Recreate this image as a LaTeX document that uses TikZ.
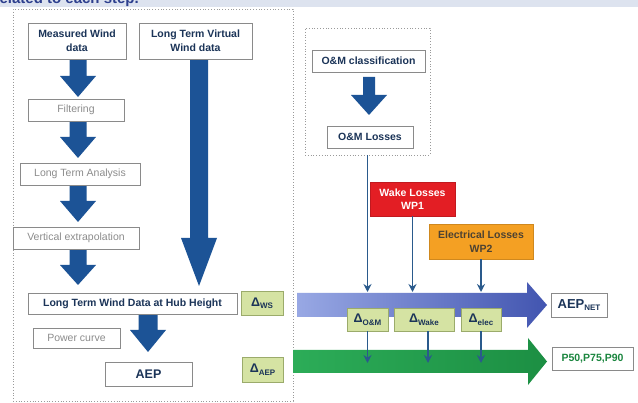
\documentclass[tikz,border=0pt]{standalone}
\usepackage{fontspec}
\setmainfont{Liberation Sans}
\usetikzlibrary{arrows.meta,calc}
\definecolor{navy}{HTML}{1B3458}
\definecolor{graytxt}{HTML}{8C8C8C}
\definecolor{boxline}{HTML}{8A8A8A}
\definecolor{frameline}{HTML}{9A9A9A}
\definecolor{fatblue}{HTML}{1C5396}
\definecolor{thinblue}{HTML}{2A5A8C}
\definecolor{deltafill}{HTML}{D5E3A3}
\definecolor{deltaline}{HTML}{9BAB6B}
\definecolor{wakered}{HTML}{E31E24}
\definecolor{elecorange}{HTML}{F4A023}
\definecolor{electxt}{HTML}{4D4232}
\definecolor{greenarrow}{HTML}{21A84F}
\definecolor{bluelight}{HTML}{98A8E4}
\definecolor{bluedark}{HTML}{4255B0}
\definecolor{bandbg}{HTML}{DDE3EF}
\definecolor{bandtxt}{HTML}{2D3F8E}
\newcommand{\fatdown}[6]{%
  \fill[fatblue] ({#1-#4},{#2}) -- ({#1-#4},{#3-#6}) -- ({#1-#5},{#3-#6}) -- ({#1},{#3})
    -- ({#1+#5},{#3-#6}) -- ({#1+#4},{#3-#6}) -- ({#1+#4},{#2}) -- cycle;}
\newcommand{\dsub}[1]{\raisebox{-2.5pt}{\fontsize{8}{9}\selectfont\bfseries #1}}
\tikzset{
  boxbase/.style={draw=boxline, line width=0.8pt, fill=white, inner sep=1pt, align=center,
    font=\fontsize{10.5}{13.5}\selectfont},
  darkbox/.style={boxbase, text=navy, font=\fontsize{10.5}{13.5}\selectfont\bfseries},
  graybox/.style={boxbase, text=graytxt},
  deltabox/.style={draw=deltaline, line width=0.8pt, fill=deltafill, inner sep=0pt, text=navy,
    font=\fontsize{12.5}{13}\selectfont\bfseries},
  dotframe/.style={draw=frameline, line width=0.8pt, dotted},
  thinarrow/.style={draw=thinblue, line width=1.8pt, -{Stealth[length=8pt,width=8pt]}},
}
\begin{document}
\begin{tikzpicture}[x=1pt,y=-1pt]
\useasboundingbox (0,0) rectangle (638,403);
\fill[white] (0,0) rectangle (638,403);
% top band with cut-off title
\begin{scope}
\clip (0,0) rectangle (638,7.5);
\fill[bandbg] (0,0) rectangle (638,7.5);
\node[anchor=base east, inner sep=0pt, text=bandtxt, font=\fontsize{15}{16}\selectfont\bfseries] (title) at (139,4) {related to each step.};
\end{scope}

% frames
\node[dotframe, minimum width=280pt, minimum height=392pt, inner sep=0pt] (leftframe) at (153,205) {};
\node[dotframe, minimum width=125pt, minimum height=127pt, inner sep=0pt] (omframe) at (367.5,91.5) {};

% big gradient arrows
\shade[left color=bluelight, right color=bluedark] (297,293) -- (527,293) -- (527,282) -- (547,305)
  -- (527,328) -- (527,317) -- (297,317) -- cycle;
\shade[left color=greenarrow!95!white, right color=greenarrow!85!black] (293,350) -- (528,350) -- (528,338) -- (547,361.5)
  -- (528,385) -- (528,373) -- (293,373) -- cycle;
\coordinate (bluetop) at (0,292);
\coordinate (greenmid) at (0,363);

% fat arrows
\fatdown{78}{59}{97}{8.5}{18}{21}
\fatdown{78}{121}{158}{8.5}{18}{21}
\fatdown{78}{185}{222}{8.5}{18}{21}
\fatdown{78}{249}{285}{8.5}{18}{20}
\fatdown{199}{59}{286}{9}{18}{48}
\fatdown{148}{314}{352}{9.5}{18}{22}
\fatdown{369}{77}{115}{6}{18}{20}

% left column nodes
\node[darkbox, minimum width=98pt, minimum height=36pt] (mw) at (77,41) {Measured Wind\\data};
\node[darkbox, minimum width=113pt, minimum height=36pt] (vw) at (195.5,41) {Long Term Virtual\\Wind data};
\node[graybox, minimum width=96pt, minimum height=22pt] (filt) at (76,110) {Filtering};
\node[graybox, minimum width=120pt, minimum height=22pt] (lta) at (80,174) {Long Term Analysis};
\node[graybox, minimum width=126pt, minimum height=22pt] (vext) at (76,238) {Vertical extrapolation};
\node[darkbox, minimum width=209pt, minimum height=21pt] (hub) at (132.5,303.5) {Long Term Wind Data at Hub Height};
\node[deltabox, minimum width=42pt, minimum height=24pt] (dws) at (262,303) {Δ\dsub{WS}};
\node[graybox, minimum width=87pt, minimum height=20pt] (pc) at (76.5,338) {Power curve};
\node[darkbox, minimum width=87pt, minimum height=24pt, font=\fontsize{12.5}{14}\selectfont\bfseries] (aep) at (148.5,374) {AEP};
\node[deltabox, minimum width=41pt, minimum height=25pt] (daep) at (262.5,369.5) {Δ\dsub{AEP}};

% right part nodes
\node[darkbox, minimum width=113pt, minimum height=22pt] (omc) at (368.5,61) {O\&M classification};
\node[darkbox, minimum width=86pt, minimum height=22pt] (oml) at (370,137) {O\&M Losses};
\node[draw=wakered!85!black, line width=0.6pt, fill=wakered, text=white, align=center, inner sep=0pt,
  minimum width=85pt, minimum height=34pt, font=\fontsize{10.5}{13.5}\selectfont\bfseries] (wake) at (412.5,199) {Wake Losses\\WP1};
\node[draw=elecorange!85!black, line width=0.6pt, fill=elecorange, text=electxt, align=center, inner sep=0pt,
  minimum width=104pt, minimum height=35pt, font=\fontsize{10.5}{13.5}\selectfont\bfseries] (elec) at (481,241.5) {Electrical Losses\\WP2};

% thin connectors into blue arrow
\draw[thinarrow] (omframe.south) -- (omframe.south |- bluetop);
\draw[thinarrow] (wake.south) -- (wake.south |- bluetop);
\draw[thinarrow] (elec.south) -- (elec.south |- bluetop);

% delta boxes on blue arrow
\node[deltabox, minimum width=41pt, minimum height=23pt] (dom) at (367.5,319.5) {Δ\dsub{O\&M}};
\node[deltabox, minimum width=60pt, minimum height=23pt] (dwake) at (424,319.5) {Δ\dsub{Wake}};
\node[deltabox, minimum width=40pt, minimum height=23pt] (delec) at (481,319.5) {Δ\dsub{elec}};

% connectors into green arrow
\draw[thinarrow] (dom.south) -- (dom.south |- greenmid);
\draw[thinarrow] ([xshift=4pt]dwake.south) -- ([xshift=4pt]dwake.south |- greenmid);
\draw[thinarrow] (delec.south) -- (delec.south |- greenmid);

% outputs
\node[darkbox, minimum width=56pt, minimum height=24pt, font=\fontsize{13}{14}\selectfont\bfseries] (aepnet) at (579,305) {AEP\dsub{NET}};
\node[boxbase, text=greenarrow!80!black, minimum width=81pt, minimum height=23pt, font=\fontsize{10.5}{12}\selectfont\bfseries] (pp) at (592.5,358.5) {P50,P75,P90};
\end{tikzpicture}
\end{document}
